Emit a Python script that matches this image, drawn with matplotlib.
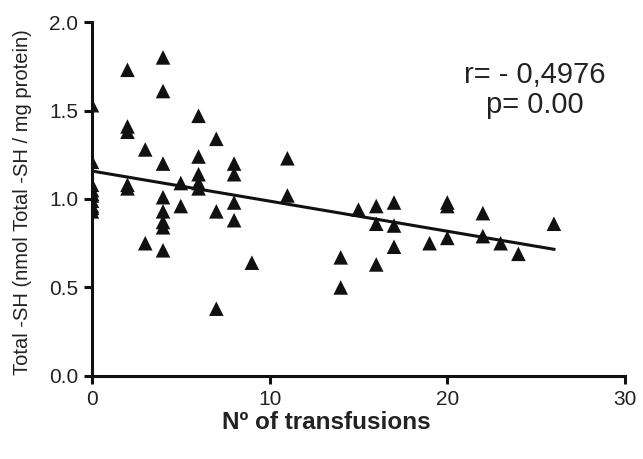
import numpy as np
import matplotlib.pyplot as plt

plt.rcParams['font.family'] = ['Liberation Sans', 'DejaVu Sans']

# number of transfusions per patient and total thiol level
transfusions = [0, 0, 0, 0, 0, 0, 0, 0, 0, 0,
                2, 2, 2, 2, 2,
                3, 3,
                4, 4, 4, 4, 4, 4, 4, 4,
                5, 5,
                6, 6, 6, 6, 6,
                7, 7, 7,
                8, 8, 8, 8,
                9,
                11, 11,
                14, 14,
                15,
                16, 16, 16,
                17, 17, 17,
                19,
                20, 20, 20,
                22, 22,
                23, 24, 26]
total_sh = [1.53, 1.21, 1.08, 1.05, 1.03, 1.02, 0.99, 0.96, 0.95, 0.93,
            1.73, 1.41, 1.38, 1.08, 1.06,
            1.28, 0.75,
            1.80, 1.61, 1.20, 1.01, 0.93, 0.87, 0.84, 0.71,
            1.09, 0.96,
            1.47, 1.24, 1.14, 1.09, 1.06,
            1.34, 0.93, 0.38,
            1.20, 1.14, 0.98, 0.88,
            0.64,
            1.23, 1.02,
            0.67, 0.50,
            0.94,
            0.96, 0.86, 0.63,
            0.98, 0.85, 0.73,
            0.75,
            0.98, 0.96, 0.78,
            0.92, 0.79,
            0.75, 0.69, 0.86]

x = np.array(transfusions, dtype=float)
y = np.array(total_sh)
slope, intercept = np.polyfit(x, y, 1)
xfit = np.array([x.min(), x.max()])

fig = plt.figure(figsize=(6.43, 4.59), dpi=100)
ax = fig.add_axes([0.143, 0.181, 0.829, 0.771])

ax.plot(xfit, intercept + slope * xfit, color='#111111', lw=2.2, zorder=2)
ax.scatter(x, y, marker='^', s=110, color='#111111', edgecolors='none', zorder=3)

ax.set_xlim(0, 30)
ax.set_ylim(0, 2.0)
ax.set_xticks([0, 10, 20, 30])
ax.set_yticks([0.0, 0.5, 1.0, 1.5, 2.0])
ax.set_yticklabels(['0.0', '0.5', '1.0', '1.5', '2.0'])

for side in ('top', 'right'):
    ax.spines[side].set_visible(False)
for side in ('left', 'bottom'):
    ax.spines[side].set_linewidth(2.2)
    ax.spines[side].set_color('#111111')
ax.tick_params(direction='out', length=6, width=2.2, color='#111111',
               labelsize=15, labelcolor='#222222', pad=4)

ax.set_xlabel('Nº of transfusions', fontsize=17.5, fontweight='bold', color='#222222', labelpad=3)
ax.xaxis.set_label_coords(0.44, -0.1)
ax.set_ylabel('Total -SH (nmol Total -SH / mg protein)', fontsize=14.5, color='#222222')
ax.yaxis.set_label_coords(-0.112, 0.49)

ax.text(0.83, 0.808, 'r= - 0,4976\np= 0.00', transform=ax.transAxes, ha='center', va='center',
        fontsize=21, color='#222222', linespacing=1.1)

fig.savefig('out.png', dpi=100)
